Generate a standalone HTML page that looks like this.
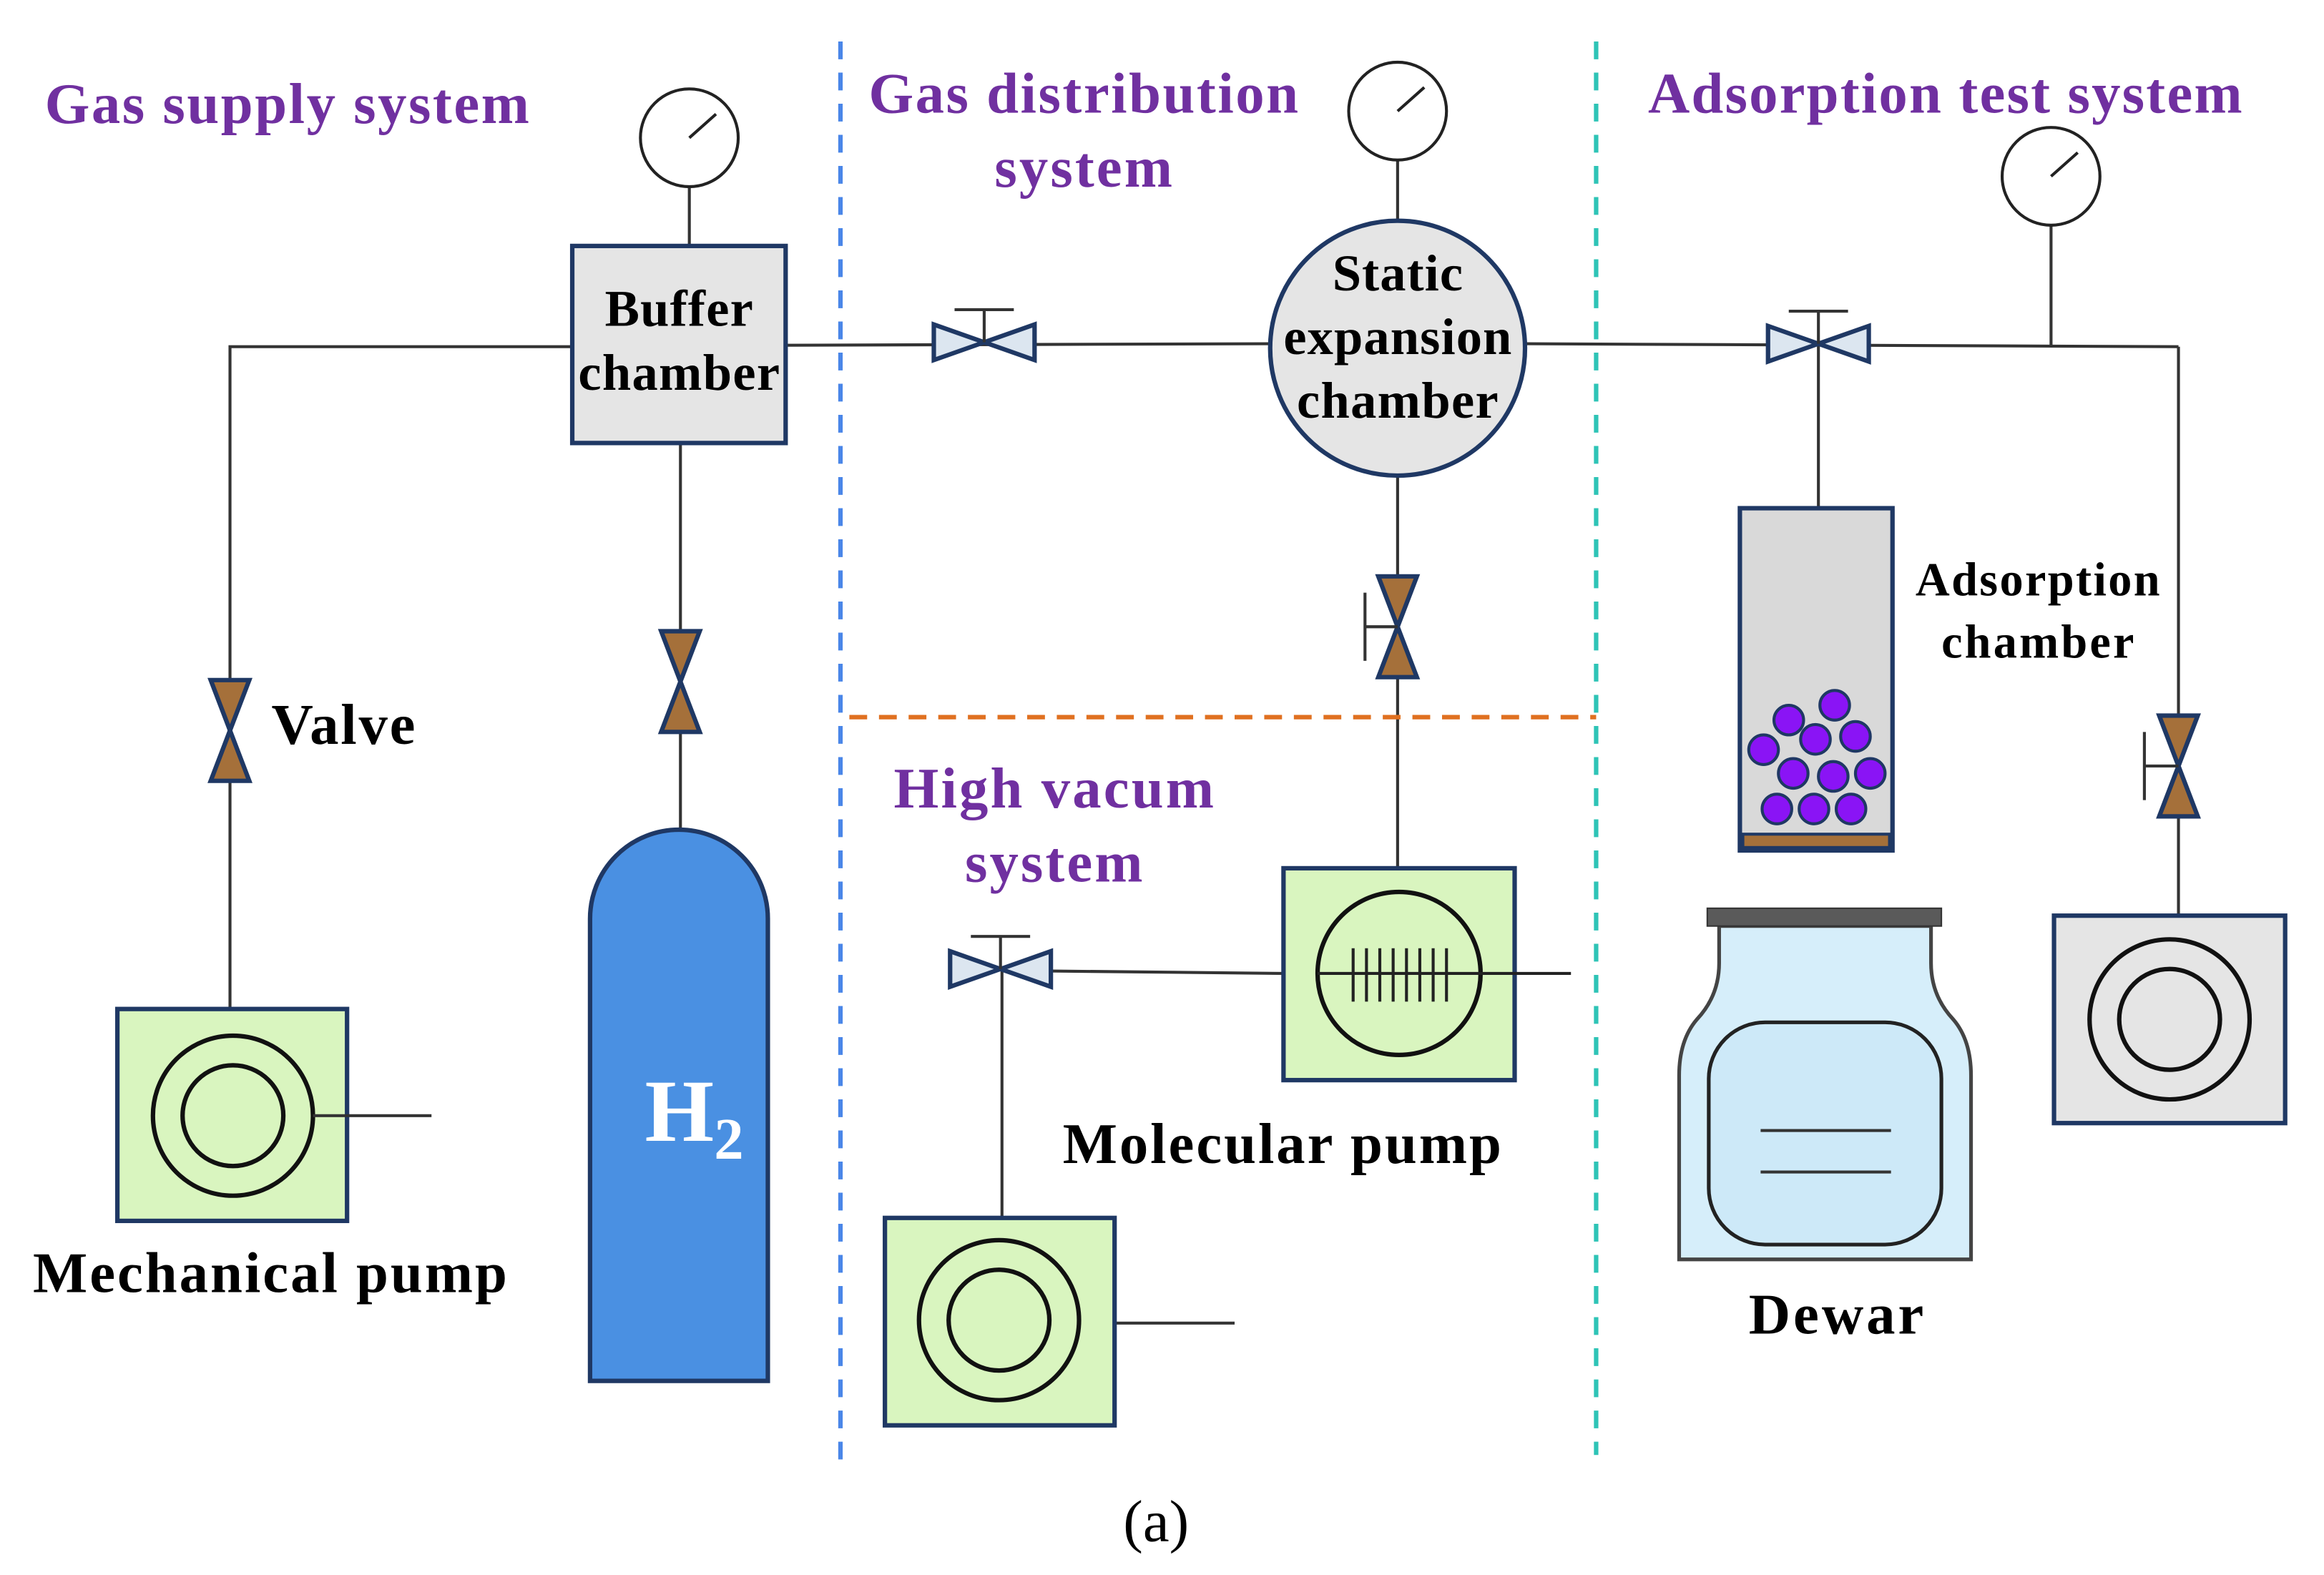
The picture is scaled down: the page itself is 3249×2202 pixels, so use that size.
<!DOCTYPE html>
<html><head><meta charset="utf-8"><style>html,body{margin:0;padding:0;background:#fff}svg{display:block}</style></head>
<body>
<svg width="3249" height="2202" viewBox="0 0 1568 1063" xmlns="http://www.w3.org/2000/svg" font-family="'Liberation Serif', serif">
<defs>
<g id="vv"><polygon points="-13,-34 13,-34 0,0" fill="#a5703a" stroke="#1f3864" stroke-width="3"/><polygon points="-13,34 13,34 0,0" fill="#a5703a" stroke="#1f3864" stroke-width="3"/></g>
<g id="hv"><polygon points="-34,-12 -34,12 0,0" fill="#dce6f0" stroke="#1f3864" stroke-width="3"/><polygon points="34,-12 34,12 0,0" fill="#dce6f0" stroke="#1f3864" stroke-width="3"/><line x1="0" y1="0" x2="0" y2="-22" stroke="#333" stroke-width="2"/><line x1="-20" y1="-22" x2="20" y2="-22" stroke="#333" stroke-width="2"/></g>
<g id="gauge"><circle r="33" fill="#fff" stroke="#222" stroke-width="2"/><line x1="0" y1="0" x2="18" y2="-16" stroke="#222" stroke-width="2"/></g>
</defs>
<g stroke="#333" stroke-width="2" fill="none">
<polyline points="386,234 155,234 155,681"/>
<line x1="465" y1="126" x2="465" y2="166"/>
<line x1="459" y1="299" x2="459" y2="562"/>
<line x1="530" y1="233" x2="857" y2="232"/>
<line x1="943" y1="108" x2="943" y2="150"/>
<line x1="943" y1="321" x2="943" y2="586"/>
<line x1="866" y1="657" x2="676" y2="655"/>
<line x1="676" y1="655" x2="676" y2="822"/>
<line x1="752" y1="893" x2="833" y2="893"/>
<line x1="1030" y1="232" x2="1470" y2="234"/>
<line x1="1384" y1="152" x2="1384" y2="234"/>
<line x1="1227" y1="232" x2="1227" y2="343"/>
<line x1="1470" y1="234" x2="1470" y2="618"/>
</g>
<line x1="567" y1="28" x2="567" y2="985" stroke="#4a86e8" stroke-width="3" stroke-dasharray="12,9"/>
<line x1="1077" y1="28" x2="1077" y2="982" stroke="#2ec4b6" stroke-width="3" stroke-dasharray="12,9"/>
<line x1="573" y1="484" x2="1077" y2="484" stroke="#e07020" stroke-width="3" stroke-dasharray="12,8"/>
<use href="#gauge" x="465" y="93"/>
<use href="#gauge" x="943" y="75"/>
<use href="#gauge" x="1384" y="119"/>
<rect x="386" y="166" width="144" height="133" fill="#e5e5e5" stroke="#1f3864" stroke-width="3"/>
<text x="458" y="220" font-size="35" font-weight="bold" text-anchor="middle" textLength="100">Buffer</text>
<text x="458" y="263" font-size="35" font-weight="bold" text-anchor="middle" textLength="136">chamber</text>
<use href="#vv" x="155" y="493"/>
<use href="#vv" x="459" y="460"/>
<use href="#hv" x="664" y="231"/>
<use href="#hv" x="675" y="654"/>
<use href="#hv" x="1227" y="232"/>
<use href="#vv" x="943" y="423"/>
<line x1="921" y1="400" x2="921" y2="446" stroke="#333" stroke-width="2"/><line x1="921" y1="423" x2="943" y2="423" stroke="#333" stroke-width="2"/>
<use href="#vv" x="1470" y="517"/>
<line x1="1447" y1="494" x2="1447" y2="540" stroke="#333" stroke-width="2"/><line x1="1447" y1="517" x2="1470" y2="517" stroke="#333" stroke-width="2"/>
<rect x="79" y="681" width="155" height="143" fill="#d9f5bf" stroke="#1f3864" stroke-width="3"/>
<circle cx="157" cy="753" r="54" fill="none" stroke="#111" stroke-width="3"/><circle cx="157" cy="753" r="34" fill="none" stroke="#111" stroke-width="3"/>
<line x1="211" y1="753" x2="291" y2="753" stroke="#333" stroke-width="2"/>
<path d="M398,932 L398,620 A60,60 0 0 1 518,620 L518,932 Z" fill="#4a90e2" stroke="#1f3864" stroke-width="3"/>
<text x="435" y="770" font-size="60" font-weight="bold" fill="#fff">H<tspan font-size="40" dy="12">2</tspan></text>
<circle cx="943" cy="235" r="86" fill="#e5e5e5" stroke="#1f3864" stroke-width="3"/>
<text x="943" y="196" font-size="35" font-weight="bold" text-anchor="middle" textLength="88">Static</text>
<text x="943" y="239" font-size="35" font-weight="bold" text-anchor="middle" textLength="154">expansion</text>
<text x="943" y="282" font-size="35" font-weight="bold" text-anchor="middle" textLength="136">chamber</text>
<rect x="866" y="586" width="156" height="143" fill="#d9f5bf" stroke="#1f3864" stroke-width="3"/>
<circle cx="944" cy="657" r="55" fill="none" stroke="#111" stroke-width="3"/>
<line x1="889" y1="657" x2="1060" y2="657" stroke="#222" stroke-width="2"/>
<g stroke="#222" stroke-width="2"><line x1="913" y1="640" x2="913" y2="676"/><line x1="922" y1="640" x2="922" y2="676"/><line x1="931" y1="640" x2="931" y2="676"/><line x1="940" y1="640" x2="940" y2="676"/><line x1="949" y1="640" x2="949" y2="676"/><line x1="958" y1="640" x2="958" y2="676"/><line x1="967" y1="640" x2="967" y2="676"/><line x1="976" y1="640" x2="976" y2="676"/></g>
<rect x="597" y="822" width="155" height="140" fill="#d9f5bf" stroke="#1f3864" stroke-width="3"/>
<circle cx="674" cy="891" r="54" fill="none" stroke="#111" stroke-width="3"/><circle cx="674" cy="891" r="34" fill="none" stroke="#111" stroke-width="3"/>
<rect x="1174" y="343" width="103" height="231" fill="#d9d9d9" stroke="#1f3864" stroke-width="3"/>
<rect x="1176" y="563" width="99" height="9" fill="#a5703a" stroke="#1f3864" stroke-width="2"/>
<g fill="#8a14f5" stroke="#1f3864" stroke-width="2">
<circle cx="1238" cy="476" r="10"/><circle cx="1207" cy="486" r="10"/><circle cx="1225" cy="499" r="10"/><circle cx="1252" cy="497" r="10"/><circle cx="1190" cy="506" r="10"/><circle cx="1210" cy="522" r="10"/><circle cx="1237" cy="524" r="10"/><circle cx="1262" cy="522" r="10"/><circle cx="1199" cy="546" r="10"/><circle cx="1224" cy="546" r="10"/><circle cx="1249" cy="546" r="10"/></g>
<rect x="1386" y="618" width="156" height="140" fill="#e5e5e5" stroke="#1f3864" stroke-width="3"/>
<circle cx="1464" cy="688" r="54" fill="none" stroke="#111" stroke-width="3"/><circle cx="1464" cy="688" r="34" fill="none" stroke="#111" stroke-width="3"/>
<path d="M1160,625 L1160,650 Q1160,672 1145,688 Q1133,702 1133,726 L1133,850 L1330,850 L1330,726 Q1330,702 1318,688 Q1303,672 1303,650 L1303,625 Z" fill="#d6eefa" stroke="#444" stroke-width="2.5"/>
<rect x="1153" y="690" width="157" height="150" rx="38" fill="#cde9f8" stroke="#222" stroke-width="2.5"/>
<rect x="1152" y="613" width="158" height="12" fill="#5a5a5a" stroke="#333" stroke-width="1"/>
<line x1="1188" y1="763" x2="1276" y2="763" stroke="#333" stroke-width="2"/>
<line x1="1188" y1="791" x2="1276" y2="791" stroke="#333" stroke-width="2"/>
<g fill="#7030a0" font-weight="bold" font-size="39">
<text x="30" y="83" textLength="327">Gas supply system</text>
<text x="731" y="76" text-anchor="middle" textLength="290">Gas distribution</text>
<text x="731" y="126" text-anchor="middle" textLength="120">system</text>
<text x="1112" y="76" textLength="401">Adsorption test system</text>
<text x="711" y="545" text-anchor="middle" textLength="216">High vacum</text>
<text x="711" y="595" text-anchor="middle" textLength="120">system</text>
</g>
<g font-weight="bold" fill="#000">
<text x="183" y="502" font-size="39" textLength="97">Valve</text>
<text x="22" y="872" font-size="39" textLength="320">Mechanical pump</text>
<text x="865" y="785" font-size="39" text-anchor="middle" textLength="296">Molecular pump</text>
<text x="1375" y="402" font-size="32" text-anchor="middle" textLength="165">Adsorption</text>
<text x="1375" y="444" font-size="32" text-anchor="middle" textLength="130">chamber</text>
<text x="1239" y="900" font-size="39" text-anchor="middle" textLength="118">Dewar</text>
</g>
<text x="780" y="1040" font-size="40" text-anchor="middle">(a)</text>
</svg>
</body></html>
